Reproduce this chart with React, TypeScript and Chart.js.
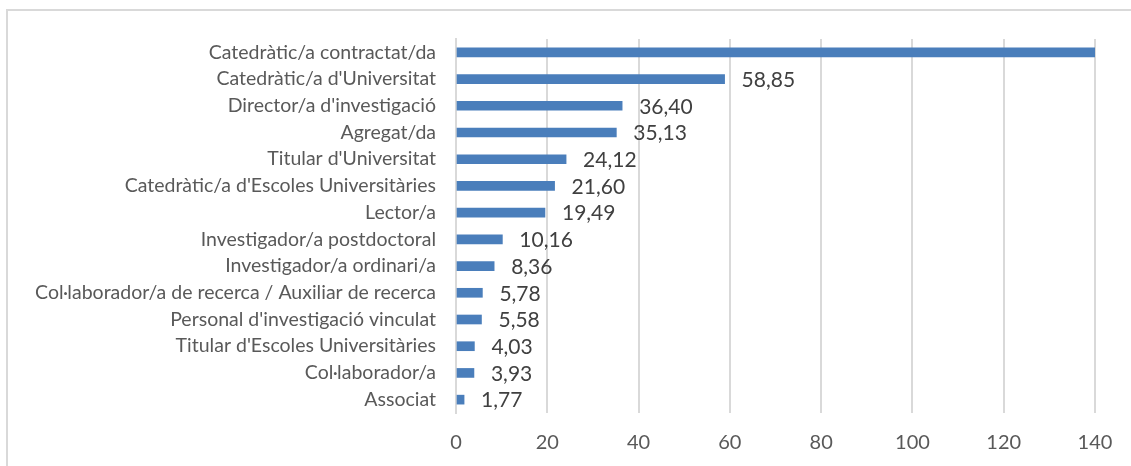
import React, { useEffect, useRef } from "react";
import { Chart, registerables } from "chart.js";

Chart.register(...registerables);

const categories = [
  "Catedràtic/a contractat/da",
  "Catedràtic/a d'Universitat",
  "Director/a d'investigació",
  "Agregat/da",
  "Titular d'Universitat",
  "Catedràtic/a d'Escoles Universitàries",
  "Lector/a",
  "Investigador/a postdoctoral",
  "Investigador/a ordinari/a",
  "Col·laborador/a de recerca / Auxiliar de recerca",
  "Personal d'investigació vinculat",
  "Titular d'Escoles Universitàries",
  "Col·laborador/a",
  "Associat",
];

const values = [150, 58.85, 36.4, 35.13, 24.12, 21.6, 19.49, 10.16, 8.36, 5.78, 5.58, 4.03, 3.93, 1.77];

const xMin = 0;
const xMax = 140;
const xStep = 20;

const FONT = "Lato, 'Open Sans', sans-serif";

const valueLabels = {
  id: "valueLabels",
  afterDatasetsDraw(chart: any) {
    const ctx = chart.ctx;
    const meta = chart.getDatasetMeta(0);
    const data = chart.data.datasets[0].data as number[];
    const max = chart.scales.x.max;
    ctx.save();
    ctx.font = `21px ${FONT}`;
    ctx.fillStyle = "#404040";
    ctx.textAlign = "left";
    ctx.textBaseline = "middle";
    meta.data.forEach((el: any, i: number) => {
      const v = data[i];
      if (v > max) return;
      ctx.fillText(v.toFixed(2).replace(".", ","), el.x + 17, el.y + 1);
    });
    ctx.restore();
  },
};

export default function App() {
  const ref = useRef<HTMLCanvasElement | null>(null);

  useEffect(() => {
    if (!ref.current) return;
    const chart = new Chart(ref.current, {
      type: "bar",
      data: {
        labels: categories,
        datasets: [
          {
            data: values,
            backgroundColor: "#4a7ebb",
            barThickness: 9,
          },
        ],
      },
      options: {
        indexAxis: "y",
        animation: false,
        responsive: false,
        layout: { padding: { top: 39, right: 36, bottom: 0, left: 0 } },
        plugins: {
          legend: { display: false },
          tooltip: { enabled: false },
        },
        scales: {
          x: {
            min: xMin,
            max: xMax,
            ticks: {
              stepSize: xStep,
              color: "#595959",
              font: { family: FONT, size: 20 },
              padding: 18,
            },
            grid: {
              color: "#d9d9d9",
              lineWidth: 2,
              drawTicks: false,
            },
            border: { display: false },
            afterFit(scale: any) {
              scale.height = 53;
            },
          },
          y: {
            ticks: {
              color: "#595959",
              font: { family: FONT, size: 19.5 },
              padding: 20,
              autoSkip: false,
            },
            grid: { display: false, drawTicks: false },
            border: { display: true, color: "#d9d9d9", width: 2 },
            afterFit(scale: any) {
              scale.width = 456;
            },
          },
        },
      },
      plugins: [valueLabels],
    });
    return () => chart.destroy();
  }, []);

  return (
    <div
      style={{
        position: "absolute",
        left: 0,
        top: 0,
        width: 1131,
        height: 466,
        overflow: "hidden",
        background: "#ffffff",
      }}
    >
      <div
        style={{
          position: "absolute",
          left: 6,
          top: 9,
          width: 1300,
          height: 700,
          border: "2px solid #d9d9d9",
        }}
      />
      <canvas
        ref={ref}
        width={1131}
        height={466}
        style={{ position: "absolute", left: 0, top: 0, width: 1131, height: 466 }}
      />
    </div>
  );
}
